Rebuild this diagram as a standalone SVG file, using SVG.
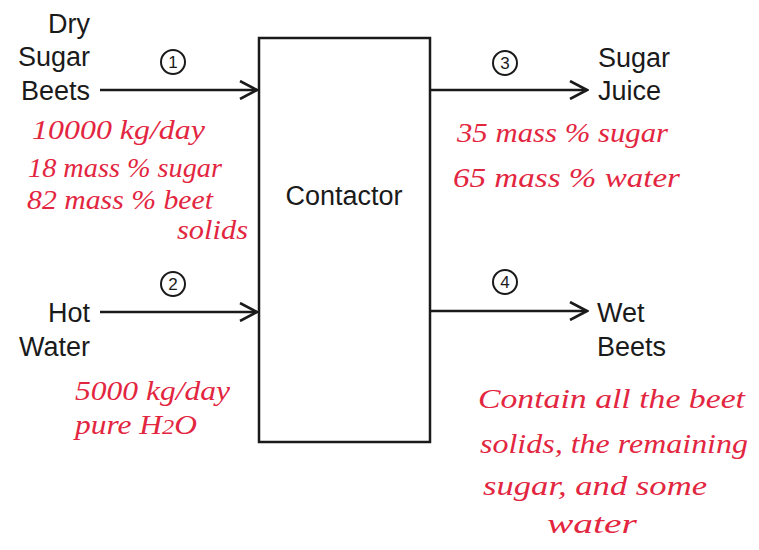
<svg xmlns="http://www.w3.org/2000/svg" width="759" height="550" viewBox="0 0 759 550">
<style>
.lbl{font-family:"Liberation Sans",Arial,sans-serif;font-size:27px;fill:#1a1a1a}
.num{font-family:"Liberation Sans",Arial,sans-serif;font-size:17px;fill:#1a1a1a;text-anchor:middle}
.hw{font-family:"Liberation Serif","DejaVu Serif",serif;font-style:italic;font-size:27px;fill:#e3263f}
.line{stroke:#1a1a1a;stroke-width:2.5;fill:none}
.circ{stroke:#1a1a1a;stroke-width:2;fill:none}
</style>
<defs>
<marker id="arr" viewBox="0 0 20 20" refX="18" refY="10" markerWidth="20" markerHeight="20" markerUnits="userSpaceOnUse" orient="auto">
<path d="M1,1 L18,10 L1,19" fill="none" stroke="#1a1a1a" stroke-width="2.6"/>
</marker>
</defs>
<rect width="759" height="550" fill="#fff"/>
<g id="contactor">
<rect x="259" y="38" width="171" height="404" fill="none" stroke="#1a1a1a" stroke-width="2.5"/>
<text class="lbl" x="344" y="205" text-anchor="middle" font-size="28">Contactor</text>
</g>
<g id="connectors">
<line class="line" x1="100" y1="90" x2="257" y2="90" marker-end="url(#arr)"/>
<line class="line" x1="100" y1="312" x2="257" y2="312" marker-end="url(#arr)"/>
<line class="line" x1="431" y1="90" x2="587" y2="90" marker-end="url(#arr)"/>
<line class="line" x1="431" y1="311" x2="587" y2="311" marker-end="url(#arr)"/>
</g>
<g id="stream1">
<text class="lbl" x="90" y="33" text-anchor="end">Dry</text>
<text class="lbl" x="90" y="66" text-anchor="end">Sugar</text>
<text class="lbl" x="90" y="100" text-anchor="end">Beets</text>
<circle class="circ" cx="173" cy="62" r="12"/>
<text class="num" x="173" y="68">1</text>
<text class="hw" x="32" y="139" textLength="173" lengthAdjust="spacingAndGlyphs">10000 kg/day</text>
<text class="hw" x="28" y="177" textLength="194" lengthAdjust="spacingAndGlyphs">18 mass % sugar</text>
<text class="hw" x="27" y="209" textLength="186" lengthAdjust="spacingAndGlyphs">82 mass % beet</text>
<text class="hw" x="177" y="239" textLength="71" lengthAdjust="spacingAndGlyphs">solids</text>
</g>
<g id="stream2">
<text class="lbl" x="90" y="322" text-anchor="end">Hot</text>
<text class="lbl" x="90" y="356" text-anchor="end">Water</text>
<circle class="circ" cx="173" cy="284" r="12"/>
<text class="num" x="173" y="290">2</text>
<text class="hw" x="75" y="400" textLength="155" lengthAdjust="spacingAndGlyphs">5000 kg/day</text>
<text class="hw" x="75" y="434" textLength="122" lengthAdjust="spacingAndGlyphs">pure H<tspan font-size="21">2</tspan>O</text>
</g>
<g id="stream3">
<text class="lbl" x="598" y="67">Sugar</text>
<text class="lbl" x="598" y="100">Juice</text>
<circle class="circ" cx="505" cy="63" r="12"/>
<text class="num" x="505" y="69">3</text>
<text class="hw" x="457" y="142" textLength="211" lengthAdjust="spacingAndGlyphs">35 mass % sugar</text>
<text class="hw" x="453" y="187" textLength="227" lengthAdjust="spacingAndGlyphs">65 mass % water</text>
</g>
<g id="stream4">
<text class="lbl" x="597" y="322">Wet</text>
<text class="lbl" x="597" y="356">Beets</text>
<circle class="circ" cx="505" cy="282" r="12"/>
<text class="num" x="505" y="288">4</text>
<text class="hw" x="478" y="408" textLength="267" lengthAdjust="spacingAndGlyphs">Contain all the beet</text>
<text class="hw" x="480" y="453" textLength="268" lengthAdjust="spacingAndGlyphs">solids, the remaining</text>
<text class="hw" x="483" y="495" textLength="224" lengthAdjust="spacingAndGlyphs">sugar, and some</text>
<text class="hw" x="547" y="533" textLength="90" lengthAdjust="spacingAndGlyphs">water</text>
</g>
</svg>
